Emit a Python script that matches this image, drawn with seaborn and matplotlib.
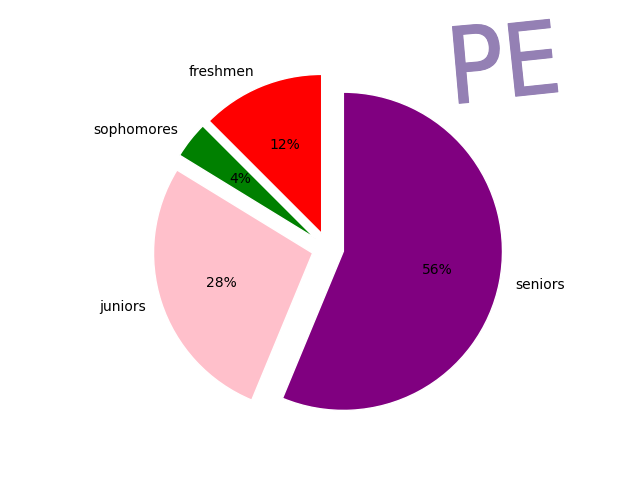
import matplotlib
matplotlib.use("Agg")
import matplotlib.pyplot as plt
import matplotlib.patheffects as pe
import seaborn as sns

# class counts
labels = ['freshmen', 'sophomores', 'juniors', 'seniors']
sizes = [10, 3, 22, 45]
colors = ['red', 'green', 'pink', 'purple']
explode = [0.1, 0.1, 0.1, 0.1]

sns.set_style('white', {'text.color': 'black'})

fig, ax = plt.subplots(figsize=(6.4, 4.8), dpi=100)
ax.pie(sizes, labels=labels, colors=colors, explode=explode,
       autopct='%1.0f%%', startangle=90, textprops={'color': 'black'})
plt.axis('equal')

# hand-drawn looking "PE" in the corner
pe_color = '#9480b4'
thick = [pe.withStroke(linewidth=0.8, foreground=pe_color)]
fig.text(443 / 640, 1 - 104 / 480, 'P', fontsize=76, color=pe_color,
         rotation=5, ha='left', va='baseline', fontstretch='condensed',
         path_effects=thick)
fig.text(499 / 640, 1 - 97 / 480, 'E', fontsize=72, color=pe_color,
         rotation=6, ha='left', va='baseline', fontstretch='condensed',
         path_effects=thick)

fig.savefig('out.png', dpi=100)
